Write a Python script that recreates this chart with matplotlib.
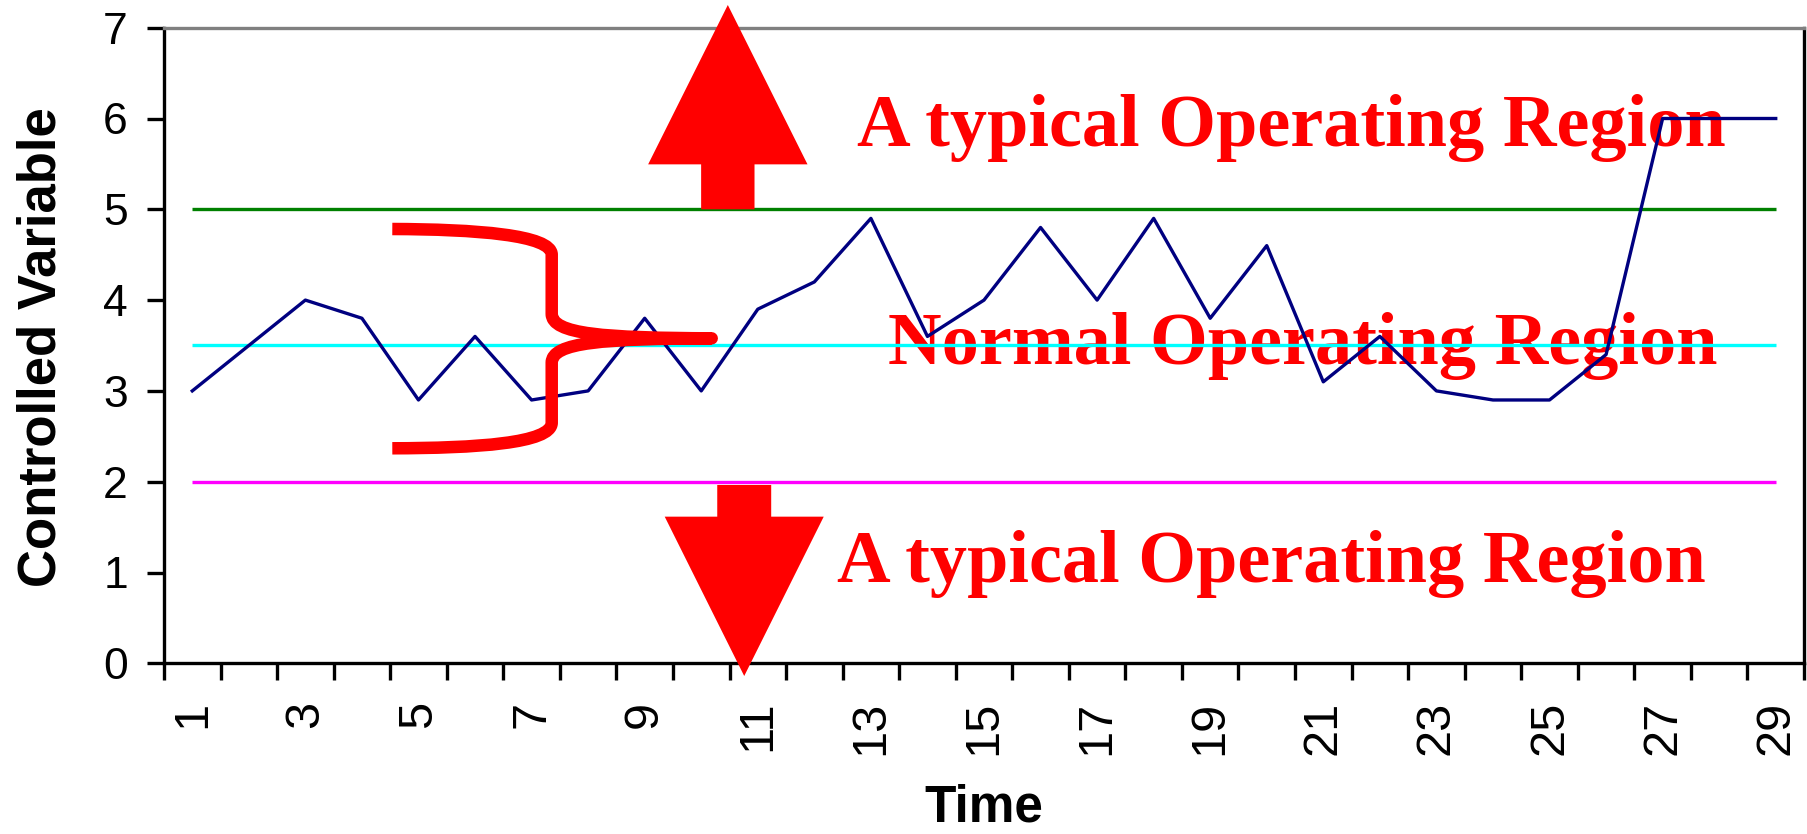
import matplotlib
matplotlib.use("Agg")
import matplotlib.pyplot as plt
from matplotlib.path import Path
from matplotlib.patches import PathPatch, Polygon

# Process data: one sample per time step
time = list(range(1, 30))
controlled = [3.0, 3.5, 4.0, 3.8, 2.9, 3.6, 2.9, 3.0, 3.8, 3.0,
              3.9, 4.2, 4.9, 3.6, 4.0, 4.8, 4.0, 4.9, 3.8, 4.6,
              3.1, 3.6, 3.0, 2.9, 2.9, 3.4, 6.0, 6.0, 6.0]

# Reference levels
upper_limit = 5.0
setpoint = 3.5
lower_limit = 2.0

# Axis labels and annotations
x_label = "Time"
y_label = "Controlled Variable"
region_upper = "A typical Operating Region"
region_normal = "Normal Operating Region"
region_lower = "A typical Operating Region"

W, H = 1808, 834
fig = plt.figure(figsize=(W / 100, H / 100), dpi=100)
ax = fig.add_axes([164 / W, 1 - 663.3 / H, 1640 / W, 635.6 / H])

sans = ["Liberation Sans", "DejaVu Sans"]
serif = ["Liberation Serif", "DejaVu Serif"]
red = "#FF0000"

# Reference lines and process variable
ax.hlines(upper_limit, time[0], time[-1], color="#008000", lw=2.4, zorder=3)
ax.hlines(setpoint, time[0], time[-1], color="#00FFFF", lw=2.4, zorder=3)
ax.hlines(lower_limit, time[0], time[-1], color="#FF00FF", lw=2.4, zorder=3)
ax.plot(time, controlled, color="#000080", lw=2.4, zorder=4)

ax.set_xlim(0.5, len(time) + 0.5)
ax.set_ylim(0, 7)

# Y axis
ax.set_yticks(range(0, 8))
ax.set_yticklabels([str(v) for v in range(0, 8)], fontsize=32, family=sans)
ax.tick_params(axis="y", which="major", direction="out", length=12,
               width=2.4, pad=14, color="black")

# X axis: ticks between categories, labels on every other category
ax.set_xticks([t + 0.5 for t in [0] + time])
ax.set_xticklabels([])
ax.set_xticks(time[::2], minor=True)
ax.set_xticklabels([str(t) for t in time[::2]], minor=True, rotation=90,
                   fontsize=35, family=sans)
ax.tick_params(axis="x", which="major", direction="out", length=12,
               width=2.4, color="black")
ax.tick_params(axis="x", which="minor", length=0, pad=27)

for side in ("left", "bottom", "right"):
    ax.spines[side].set_color("black")
    ax.spines[side].set_linewidth(2.4)
ax.spines["top"].set_color("#808080")
ax.spines["top"].set_linewidth(2.4)

fig.text(41.5 / W, 1 - 347 / H, y_label, rotation=90, ha="center",
         va="center", fontsize=38, fontweight="bold", family=sans)
fig.text(984 / W, 1.5 / H, x_label, ha="center", va="bottom",
         fontsize=37, fontweight="bold", family=sans)

# Region labels
text_kw = dict(color=red, fontsize=53.5, fontweight="bold", family=serif,
               ha="left", va="baseline", zorder=2, clip_on=False)
ax.text(12.75, 5.70, region_upper, **text_kw)
ax.text(13.30, 3.30, region_normal, **text_kw)
ax.text(12.40, 0.89, region_lower, **text_kw)


def block_arrow(xc, y_base, y_neck, y_tip, shaft_half, head_half):
    verts = [(xc - shaft_half, y_base), (xc - shaft_half, y_neck),
             (xc - head_half, y_neck), (xc, y_tip),
             (xc + head_half, y_neck), (xc + shaft_half, y_neck),
             (xc + shaft_half, y_base)]
    return Polygon(verts, closed=True, facecolor=red, edgecolor="none",
                   zorder=6, clip_on=False)


ax.add_patch(block_arrow(10.47, 5.0, 5.495, 7.25, 0.472, 1.409))
ax.add_patch(block_arrow(10.76, 1.964, 1.615, -0.14, 0.477, 1.406))

# Curly brace spanning the normal band
bx, tip_x, left_x = 7.356, 10.185, 4.537
mid = 3.579
brace_verts = [
    (left_x, 4.783),
    (6.0, 4.78), (bx, 4.72), (bx, 4.50),
    (bx, 3.85),
    (bx, 3.62), (8.3, 3.585), (tip_x, mid),
    (8.3, 3.573), (bx, 3.54), (bx, 3.31),
    (bx, 2.65),
    (bx, 2.42), (6.0, 2.37), (left_x, 2.368),
]
brace_codes = [Path.MOVETO,
               Path.CURVE4, Path.CURVE4, Path.CURVE4,
               Path.LINETO,
               Path.CURVE4, Path.CURVE4, Path.CURVE4,
               Path.CURVE4, Path.CURVE4, Path.CURVE4,
               Path.LINETO,
               Path.CURVE4, Path.CURVE4, Path.CURVE4]
ax.add_patch(PathPatch(Path(brace_verts, brace_codes), facecolor="none",
                       edgecolor=red, lw=9, capstyle="butt",
                       joinstyle="round", zorder=6, clip_on=False))

fig.savefig("out.png", dpi=100)
